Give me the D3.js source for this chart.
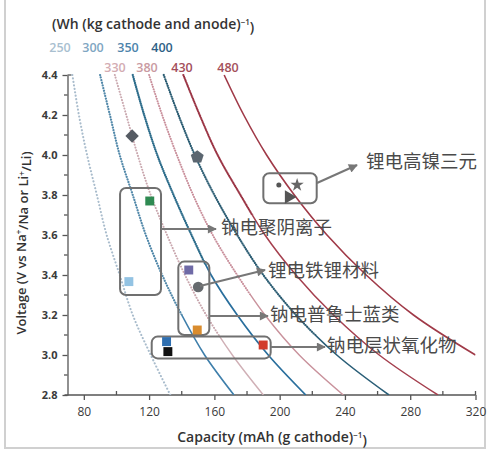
<!DOCTYPE html>
<html>
<head>
<meta charset="utf-8">
<script src="https://cdn.jsdelivr.net/npm/d3@7"></script>
<style>
  html, body { margin: 0; padding: 0; background: #fff; }
  svg { display: block; }
</style>
</head>
<body>
<svg id="chart" width="487" height="450"></svg>
<script>
// ---------------- DATA ----------------
const voltages = [4.4, 4.2, 4.0, 3.8, 3.6, 3.4, 3.2, 3.0, 2.8];
const energyNa = ["250", "300", "350", "400"];
const energyLi = ["330", "380", "430", "480"];
const curve250 = [73, 77, 82, 88, 94, 102, 110, 121, 133];
const curve300 = [90, 96, 102, 110, 118, 128, 140, 154, 172];
const curve330 = [99, 106, 113, 121, 131, 142, 155, 171, 190];
const curve350 = [110, 117, 125, 135, 146, 158, 174, 193, 216];
const curve380 = [120, 128, 137, 147, 159, 174, 191, 212, 239];
const curve400 = [129, 138, 148, 160, 174, 190, 210, 235, 267];
const curve430 = [141, 151, 162, 176, 191, 210, 233, 261, 297];
const curve480 = [166, 178, 192, 209, 229, 253, 282, 320, null];

const xTicks = [80, 120, 160, 200, 240, 280, 320];
const yTicks = [2.8, 3.0, 3.2, 3.4, 3.6, 3.8, 4.0, 4.2, 4.4];

// material points (capacity, voltage)
const pointQ = [109.6, 149.5, 120.4, 107.6, 144.3, 150.1, 149.5, 130.7, 131.5, 189.9, 199.5, 210.7, 205.6];
const pointV = [4.095, 3.99, 3.77, 3.367, 3.425, 3.34, 3.125, 3.067, 3.017, 3.05, 3.85, 3.85, 3.79];

// group boxes [q0, q1, vTop, vBottom]
const boxQ0 = [102.2, 137.9, 121.6, 190.0];
const boxQ1 = [127.3, 156.9, 194.5, 222.7];
const boxVt = [3.835, 3.467, 3.092, 3.909];
const boxVb = [3.300, 3.100, 2.983, 3.759];

const labelsCN = ["钠电聚阴离子", "锂电铁锂材料", "钠电普鲁士蓝类", "钠电层状氧化物", "锂电高镍三元"];

// ---------------- STYLES ----------------
const curves = [
  {e: "250", q: curve250, color: "#a9bccc", dash: "0.1,3.4", solidBelow: null, w: 1.5, solidColor: "#a7bccd"},
  {e: "300", q: curve300, color: "#5389aa", dash: "0.1,2.6", solidBelow: 3.2, w: 1.6, solidColor: "#3f7fab"},
  {e: "330", q: curve330, color: "#c9a7ae", dash: "0.1,2.8", solidBelow: 3.1, w: 1.4, solidColor: "#d0b0b6"},
  {e: "350", q: curve350, color: "#2f6e8c", dash: "0.1,2.0", solidBelow: 3.45, w: 1.7, solidColor: "#2a6f9d"},
  {e: "380", q: curve380, color: "#c98f9b", dash: "0.1,2.4", solidBelow: 3.3, w: 1.4, solidColor: "#c9929c"},
  {e: "400", q: curve400, color: "#2c5d73", dash: "0.1,2.2", solidBelow: 3.1, w: 1.6, solidColor: "#2b5f78"},
  {e: "430", q: curve430, color: "#9b3545", dash: "0.1,1.6", solidBelow: 3.7, w: 1.5, solidColor: "#a5404f"},
  {e: "480", q: curve480, color: "#a03a48", dash: null, solidBelow: 4.5, w: 1.6, solidColor: "#a03a48"}
];
const labelColor = {"250": "#a9bfd0", "300": "#80a6c2", "350": "#4d84ab", "400": "#2f5f86",
                    "330": "#d3acb2", "380": "#c99aa1", "430": "#a34d5a", "480": "#a4505b"};
const labelX = {"250": 60, "300": 93, "350": 128, "400": 162, "330": 115, "380": 147, "430": 182, "480": 228};

const pointStyle = [
  {shape: "diamond", color: "#555b63", size: 90},
  {shape: "pentagon", color: "#5b6670", size: 110},
  {shape: "square", color: "#2f8a52", size: 80},
  {shape: "square", color: "#93c3e3", size: 80},
  {shape: "square", color: "#6f6aa6", size: 80},
  {shape: "circle", color: "#666a6e", size: 90},
  {shape: "square", color: "#d98c2e", size: 80},
  {shape: "square", color: "#2f6fb0", size: 80},
  {shape: "square", color: "#111111", size: 80},
  {shape: "square", color: "#d23b2b", size: 80},
  {shape: "circle", color: "#555555", size: 20},
  {shape: "star", color: "#666666", size: 55},
  {shape: "triangle", color: "#555555", size: 80}
];

// ---------------- CHART ----------------
const svg = d3.select("#chart");
const x = d3.scaleLinear().domain([70, 320]).range([67.5, 475.5]);
const y = d3.scaleLinear().domain([2.8, 4.4]).range([395, 75]);

// frame
svg.append("path").attr("d", "M5,0 L5,448 L485,448 L485,0")
  .attr("fill", "none").attr("stroke", "#d0d0d0").attr("stroke-width", 2);

const defs = svg.append("defs");
defs.append("clipPath").attr("id", "plotclip").append("rect")
  .attr("x", x(70)).attr("y", y(4.4) - 4).attr("width", x(320) - x(70)).attr("height", y(2.8) - y(4.4) + 4);

defs.append("marker").attr("id", "arrow").attr("viewBox", "0 0 10 10")
  .attr("refX", 9).attr("refY", 5).attr("markerWidth", 11).attr("markerHeight", 9)
  .attr("markerUnits", "userSpaceOnUse").attr("orient", "auto")
  .append("path").attr("d", "M0,0 L10,5 L0,10 Z").attr("fill", "#777");

// axes
const xAxis = d3.axisBottom(x).tickValues(xTicks).tickSize(5).tickSizeOuter(0).tickFormat(d3.format("d"));
const gx = svg.append("g").attr("transform", `translate(0,${y(2.8)})`).call(xAxis);
gx.select(".domain").attr("d", `M${x(70) - 3},0H${x(320)}`);
const xMinor = d3.range(100, 320, 40);
gx.selectAll(".minor").data(xMinor).enter().append("line").attr("class", "minor")
  .attr("x1", d => x(d)).attr("x2", d => x(d)).attr("y1", 0).attr("y2", -4);
gx.append("line").attr("x1", x(320)).attr("x2", x(320)).attr("y1", 0).attr("y2", -4);

const yAxis = d3.axisLeft(y).tickValues(yTicks).tickSize(5).tickSizeOuter(0).tickFormat(d3.format(".1f"));
const gy = svg.append("g").attr("transform", `translate(${x(70)},0)`).call(yAxis);
const yMinor = d3.range(2.9, 4.4, 0.2);
gy.selectAll(".minor").data(yMinor).enter().append("line").attr("class", "minor")
  .attr("x1", 0).attr("x2", -3.5).attr("y1", d => y(d)).attr("y2", d => y(d));
gy.append("line").attr("x1", 0).attr("x2", 4).attr("y1", y(4.4)).attr("y2", y(4.4));

[gx, gy].forEach(g => {
  g.selectAll("path, line").attr("stroke", "#555").attr("stroke-width", 1.3);
  g.selectAll("text").attr("fill", "#3a3a3a").style("font-family", "'Open Sans', sans-serif");
});
gx.selectAll(".tick text").style("font-size", "12px").attr("dy", "1.05em");
gy.selectAll(".tick text").style("font-size", "11px").style("font-weight", "700").attr("dx", "-2");

// axis titles
const yt = svg.append("text")
  .attr("transform", `translate(26,${(y(2.8) + y(4.4)) / 2 + 8}) rotate(-90)`)
  .attr("text-anchor", "middle").attr("fill", "#333")
  .style("font-family", "'Open Sans', sans-serif").style("font-size", "13px").style("font-weight", "600");
yt.append("tspan").text("Voltage (V vs Na");
yt.append("tspan").text("+").attr("dy", "-0.45em").style("font-size", "8px");
yt.append("tspan").text("/Na or Li").attr("dy", "0.45em");
yt.append("tspan").text("+").attr("dy", "-0.45em").style("font-size", "8px");
yt.append("tspan").text("/Li)").attr("dy", "0.45em");

const xt = svg.append("text").attr("x", 272).attr("y", 442).attr("text-anchor", "middle").attr("fill", "#333")
  .style("font-family", "'Open Sans', sans-serif").style("font-size", "14px").style("font-weight", "600");
xt.append("tspan").text("Capacity (mAh (g cathode)");
xt.append("tspan").text("−1").attr("dy", "-0.5em").style("font-size", "8px");
xt.append("tspan").text(")").attr("dy", "0.5em");

const tt = svg.append("text").attr("x", 52).attr("y", 29).attr("fill", "#333")
  .style("font-family", "'Open Sans', sans-serif").style("font-size", "14px").style("font-weight", "600");
tt.append("tspan").text("(Wh (kg cathode and anode)");
tt.append("tspan").text("−1").attr("dy", "-0.5em").style("font-size", "8px");
tt.append("tspan").text(")").attr("dy", "0.5em");

// energy labels
energyNa.forEach(e => svg.append("text").attr("x", labelX[e]).attr("y", 52).attr("text-anchor", "middle")
  .attr("fill", labelColor[e]).style("font-family", "'Open Sans', sans-serif").style("font-size", "12.5px")
  .style("font-weight", "600").text(e));
energyLi.forEach(e => svg.append("text").attr("x", labelX[e]).attr("y", 72).attr("text-anchor", "middle")
  .attr("fill", labelColor[e]).style("font-family", "'Open Sans', sans-serif").style("font-size", "12.5px")
  .style("font-weight", "600").text(e));

// energy density curves
const line = d3.line().defined(d => d[0] != null).x(d => x(d[0])).y(d => y(d[1])).curve(d3.curveCatmullRom.alpha(0.5));
const gc = svg.append("g").attr("clip-path", "url(#plotclip)");
curves.forEach((c, i) => {
  const pts = voltages.map((v, k) => [c.q[k], v]).filter(d => d[0] != null);
  const d = line(pts);
  const thr = c.solidBelow;
  if (c.dash) {
    const cid = "above" + i;
    defs.append("clipPath").attr("id", cid).append("rect")
      .attr("x", 0).attr("y", 0).attr("width", 487).attr("height", thr ? y(thr) : 450);
    gc.append("path").attr("d", d).attr("fill", "none").attr("stroke", c.color)
      .attr("stroke-width", c.w + 0.6).attr("stroke-linecap", "round").attr("stroke-dasharray", c.dash)
      .attr("clip-path", `url(#${cid})`);
  }
  if (thr) {
    const cid = "below" + i;
    defs.append("clipPath").attr("id", cid).append("rect")
      .attr("x", 0).attr("y", y(thr)).attr("width", 487).attr("height", 450 - y(thr));
    gc.append("path").attr("d", d).attr("fill", "none").attr("stroke", c.solidColor)
      .attr("stroke-width", c.w).attr("clip-path", `url(#${cid})`);
  }
});

// boxes
boxQ0.forEach((q0, i) => {
  svg.append("rect").attr("x", x(q0)).attr("y", y(boxVt[i]))
    .attr("width", x(boxQ1[i]) - x(q0)).attr("height", y(boxVb[i]) - y(boxVt[i]))
    .attr("rx", 6).attr("fill", "none").attr("stroke", "#707070").attr("stroke-width", 2);
});

// markers
const pentagon = {
  draw(ctx, size) {
    const r = Math.sqrt(size / 2.4);
    for (let k = 0; k < 5; k++) {
      const a = -Math.PI / 2 + k * 2 * Math.PI / 5;
      const px = r * Math.cos(a), py = r * Math.sin(a);
      if (k === 0) ctx.moveTo(px, py); else ctx.lineTo(px, py);
    }
    ctx.closePath();
  }
};
const shapeType = {diamond: d3.symbolSquare, pentagon: pentagon, square: d3.symbolSquare,
                   circle: d3.symbolCircle, star: d3.symbolStar, triangle: d3.symbolTriangle};
pointQ.forEach((q, i) => {
  const st = pointStyle[i];
  const rot = st.shape === "triangle" ? " rotate(90)" : (st.shape === "diamond" ? " rotate(45)" : "");
  svg.append("path").attr("d", d3.symbol().type(shapeType[st.shape]).size(st.size)())
    .attr("transform", `translate(${x(q)},${y(pointV[i])})${rot}`)
    .attr("fill", st.color);
});

// annotation arrows and labels
const arrows = [
  [161, 229, 216, 229],
  [200, 286, 265, 270],
  [209, 316, 268, 316],
  [271, 347, 325, 347],
  [317, 183, 357, 165]
];
const labelPos = [[221, 229], [268, 272], [270, 316], [327, 347], [366, 163]];
arrows.forEach(a => svg.append("line").attr("x1", a[0]).attr("y1", a[1]).attr("x2", a[2]).attr("y2", a[3])
  .attr("stroke", "#777").attr("stroke-width", 2).attr("marker-end", "url(#arrow)"));
labelsCN.forEach((t, i) => svg.append("text").attr("x", labelPos[i][0]).attr("y", labelPos[i][1])
  .attr("dominant-baseline", "middle").attr("fill", "#4a4a4a")
  .style("font-family", "'Noto Sans CJK SC', sans-serif").style("font-size", "18.5px").text(t));
</script>
</body>
</html>
